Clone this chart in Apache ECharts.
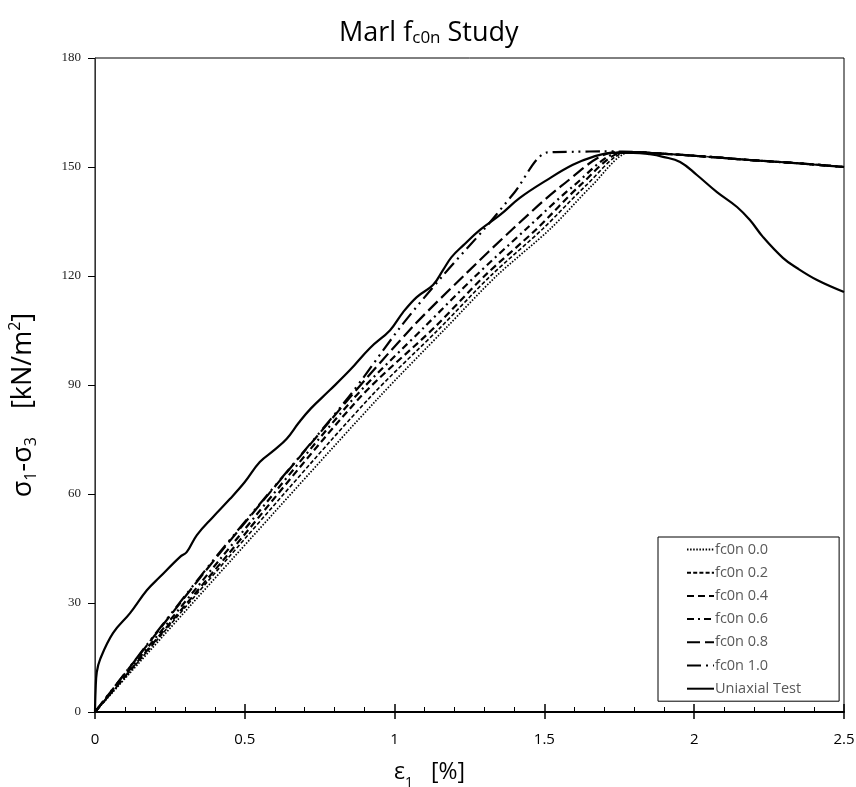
<!DOCTYPE html>
<html>
<head>
<meta charset="utf-8">
<script src="https://cdn.jsdelivr.net/npm/echarts@6/dist/echarts.min.js"></script>
<style>html,body{margin:0;padding:0;background:#fff}#c{width:856px;height:787px}</style>
</head>
<body>
<div id="c"></div>
<script>
// Data: [strain %, deviator stress kN/m2]
const postPeak = [[1.85,153.9],[2.0,153.1],[2.19,151.9],[2.35,151.0],[2.5,150.0]];
const fc0n00 = [[0,0],[0.457,42],[0.941,86],[1.175,106],[1.34,120],[1.52,133],[1.66,145],[1.78,154],[1.82,154.1]];
const fc0n02 = [[0,0],[0.44,42],[0.911,86],[1.155,106],[1.32,120],[1.495,133],[1.64,145],[1.77,154],[1.82,154.1]];
const fc0n04 = [[0,0],[0.43,42],[0.878,86],[1.135,106],[1.30,120],[1.475,133],[1.62,145],[1.76,154],[1.82,154.1]];
const fc0n06 = [[0,0],[0.417,42],[0.86,86],[1.10,106],[1.27,120],[1.44,133],[1.60,145],[1.75,154],[1.82,154.1]];
const fc0n08 = [[0,0],[0.40,42],[0.845,86],[1.06,106],[1.23,120],[1.395,133],[1.56,145],[1.73,154],[1.82,154.1]];
const fc0n10 = [[0,0],[0.397,42],[0.84,86],[1.02,106],[1.16,120],[1.30,133],[1.40,143],[1.51,154],[1.6,154.2],[1.7,154.3],[1.82,154.1]];
const uniaxial = [[0,0],[0.002,6],[0.006,11],[0.017,14.5],[0.06,21.7],[0.117,27.2],[0.173,33.5],[0.217,37.2],[0.284,42.7],[0.306,44],[0.34,48.7],[0.394,53.7],[0.45,58.6],[0.5,63.3],[0.55,68.8],[0.6,72.2],[0.64,75.2],[0.68,79.6],[0.72,83.5],[0.784,88.6],[0.851,94.1],[0.918,100.2],[0.985,105.1],[1.028,110],[1.074,114.2],[1.128,117.5],[1.162,121.7],[1.19,125.2],[1.23,128.5],[1.285,132.7],[1.352,136.8],[1.418,141.5],[1.508,146.4],[1.595,150.6],[1.662,152.8],[1.729,153.9],[1.796,153.9],[1.852,153.5],[1.896,152.8],[1.953,151.4],[2.009,147.8],[2.076,143.1],[2.143,139],[2.186,135.4],[2.23,130.7],[2.296,125],[2.343,122.2],[2.41,118.9],[2.5,115.6]];
const seriesNames = ['fc0n 0.0','fc0n 0.2','fc0n 0.4','fc0n 0.6','fc0n 0.8','fc0n 1.0','Uniaxial Test'];
const xTicks = [0, 0.5, 1, 1.5, 2, 2.5];
const yTicks = [0, 30, 60, 90, 120, 150, 180];

const fcData = [fc0n00, fc0n02, fc0n04, fc0n06, fc0n08, fc0n10].map(d => d.concat(postPeak));
const dashes = [[1.5,1.6],[4,2.2],[7,4],[7,4,2,4],[13,5],[14,5,2,5,2,5]];
const widths = [1.7,1.6,2.2,2.2,2.2,2.2];

const chart = echarts.init(document.getElementById('c'));
const series = fcData.map((d, i) => ({
  name: seriesNames[i], type: 'line', data: d, symbol: 'none', smooth: 0.3,
  lineStyle: {color: '#000', width: widths[i], type: dashes[i], cap: 'butt'},
  itemStyle: {color: '#000'}
}));
series.push({
  name: seriesNames[6], type: 'line', data: uniaxial, symbol: 'none', smooth: 0.4,
  lineStyle: {color: '#000', width: 2.2, type: 'solid'}, itemStyle: {color: '#000'}
});
// overlay axis with only outward major ticks
series.push({type: 'line', xAxisIndex: 1, data: [], symbol: 'none'});

chart.setOption({
  animation: false,
  backgroundColor: '#fff',
  title: {
    text: '{m|Marl f}{s|c0n}{m| Study}',
    left: 334, top: 8,
    textStyle: {
      fontWeight: 'normal',
      rich: {
        m: {fontFamily: 'Open Sans', fontSize: 27, fontWeight: 'normal', color: '#000', lineHeight: 34, verticalAlign: 'bottom'},
        s: {fontFamily: 'Open Sans', fontSize: 17, fontWeight: 'normal', color: '#000', lineHeight: 25, verticalAlign: 'bottom'}
      }
    }
  },
  grid: {left: 95, right: 12, top: 58, bottom: 75, show: true, borderColor: '#000', borderWidth: 1,
    containLabel: false, outerBoundsMode: 'none'},
  legend: {
    data: seriesNames, orient: 'vertical', left: 658, top: 537,
    padding: [5, 38, 5, 28], itemGap: 8.2, itemWidth: 27, itemHeight: 14,
    backgroundColor: '#fff', borderColor: '#000', borderWidth: 1,
    itemStyle: {opacity: 0, borderWidth: 0},
    textStyle: {fontFamily: 'Open Sans', fontSize: 14.5, color: '#595959', padding: [0, 0, 0, -4]}
  },
  xAxis: [{
    type: 'value', min: 0, max: 2.5, interval: 0.5,
    axisLine: {show: true, onZero: false, lineStyle: {color: '#000', width: 2}},
    axisTick: {show: true, inside: true, length: 8, lineStyle: {color: '#000', width: 1.5}},
    minorTick: {show: true, splitNumber: 5, length: 5, lineStyle: {color: '#000', width: 1}},
    splitLine: {show: false},
    axisLabel: {margin: 20, fontFamily: 'Open Sans', fontSize: 15, color: '#000',
      formatter: v => xTicks.indexOf(+v.toFixed(2)) >= 0 ? String(+v.toFixed(2)) : ''},
    name: '{m|ε}{s|1}{m|   [%]}', nameLocation: 'middle', nameGap: 44,
    nameTextStyle: {padding: [0, 80, 0, 0], rich: {
      m: {fontFamily: 'Open Sans', fontSize: 23, color: '#000', lineHeight: 28, verticalAlign: 'bottom'},
      s: {fontFamily: 'Open Sans', fontSize: 14, color: '#000', lineHeight: 20, verticalAlign: 'bottom', padding: [0,0,-6,0]}
    }}
  }, {
    type: 'value', min: 0, max: 2.5, interval: 0.5, position: 'bottom',
    axisLine: {show: false}, axisLabel: {show: false}, splitLine: {show: false},
    axisTick: {show: true, inside: false, length: 7, lineStyle: {color: '#000', width: 1.5}}
  }],
  yAxis: {
    type: 'value', min: 0, max: 180, interval: 30,
    axisLine: {show: true, lineStyle: {color: '#333', width: 1}},
    axisTick: {show: true, inside: false, length: 7, lineStyle: {color: '#000'}},
    splitLine: {show: false},
    axisLabel: {margin: 14, fontFamily: 'Liberation Serif', fontSize: 13, color: '#222',
      formatter: v => yTicks.indexOf(v) >= 0 ? String(v) : ''},
    name: '{m|σ}{s|1}{m|-σ}{s|3}{m|    [kN/m}{p|2}{m|]}', nameLocation: 'middle', nameRotate: 90, nameGap: 56,
    nameTextStyle: {padding: [0, 40, 0, 0], rich: {
      m: {fontFamily: 'Open Sans', fontSize: 27, color: '#000', lineHeight: 32, verticalAlign: 'middle'},
      s: {fontFamily: 'Open Sans', fontSize: 16, color: '#000', lineHeight: 32, verticalAlign: 'bottom'},
      p: {fontFamily: 'Open Sans', fontSize: 16, color: '#000', lineHeight: 32, verticalAlign: 'top'}
    }}
  },
  series: series
});
</script>
</body>
</html>
